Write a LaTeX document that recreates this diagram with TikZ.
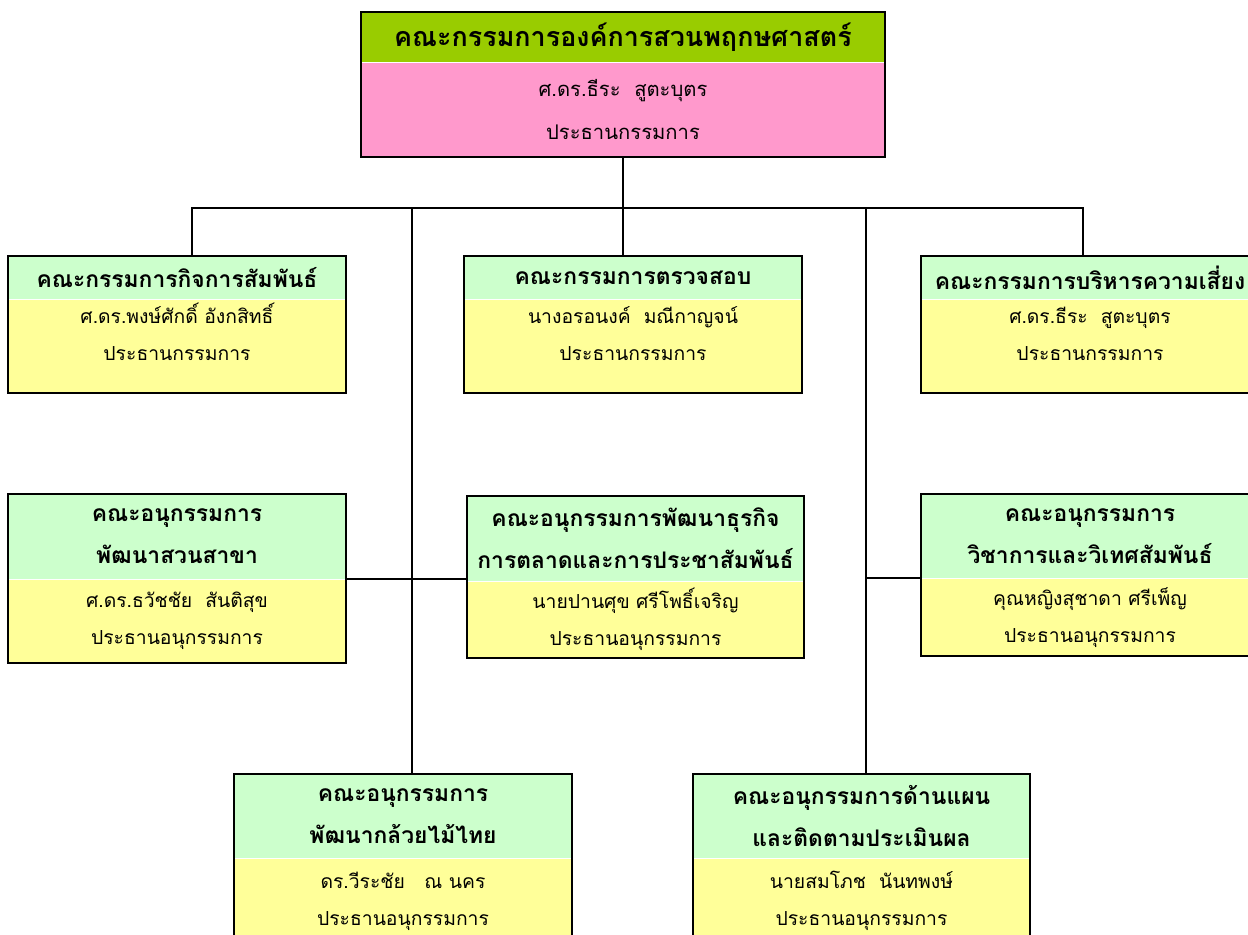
\documentclass[tikz,border=0pt]{standalone}
\usepackage{fontspec}
\newfontfamily\thai[Script=Thai]{Loma}
\usetikzlibrary{positioning}
\definecolor{topgreen}{RGB}{153,204,0}
\definecolor{toppink}{RGB}{255,153,204}
\definecolor{headgreen}{RGB}{204,255,204}
\definecolor{bodyyellow}{RGB}{255,255,153}

\begin{document}
\begin{tikzpicture}[
    x=0.2mm, y=-0.2mm,
    node distance=0pt,
    head/.style={fill=headgreen, inner sep=0pt, minimum width=67.6mm, align=center,
        font=\thai\bfseries\fontsize{13}{24}\selectfont},
    body/.style={fill=bodyyellow, inner sep=0pt, minimum width=67.6mm, align=center,
        font=\thai\fontsize{11}{21}\selectfont},
    frame/.style={draw=black, line width=1.1pt},
    link/.style={draw=black, line width=1.1pt}
]
\useasboundingbox (0,0) rectangle (1248,935);

% คณะกรรมการชุดใหญ่
\node[fill=topgreen, inner sep=0pt, minimum width=104.8mm, minimum height=10mm,
    font=\thai\bfseries\fontsize{15.3}{23}\selectfont] (toph) at (623,37) {คณะกรรมการองค์การสวนพฤกษศาสตร์};
\node[fill=toppink, inner sep=0pt, minimum width=104.8mm, minimum height=18.8mm, align=center,
    font=\thai\fontsize{11.5}{24.5}\selectfont, below=of toph] (topb) {ศ.ดร.ธีระ~~สูตะบุตร\\ประธานกรรมการ};

% คณะกรรมการ
\node[head, minimum height=8.6mm] (g1h) at (177,277.5) {คณะกรรมการกิจการสัมพันธ์};
\node[body, text height=12.2mm, text depth=6.4mm, below=of g1h] (g1b) {ศ.ดร.พงษ์ศักดิ์ อังกสิทธิ์\\ประธานกรรมการ};
\node[head, minimum height=8.6mm] (g2h) at (633,277.5) {คณะกรรมการตรวจสอบ};
\node[body, text height=12.2mm, text depth=6.4mm, below=of g2h] (g2b) {นางอรอนงค์~~มณีกาญจน์\\ประธานกรรมการ};
\node[head, minimum height=8.6mm] (g3h) at (1090,277.5) {คณะกรรมการบริหารความเสี่ยง};
\node[body, text height=12.2mm, text depth=6.4mm, below=of g3h] (g3b) {ศ.ดร.ธีระ~~สูตะบุตร\\ประธานกรรมการ};

% คณะอนุกรรมการ
\node[head, minimum height=17mm] (s1h) at (177,536.5) {คณะอนุกรรมการ\\พัฒนาสวนสาขา};
\node[body, minimum height=16.6mm, below=of s1h] (s1b) {ศ.ดร.ธวัชชัย~~สันติสุข\\ประธานอนุกรรมการ};
\node[head, minimum width=67.4mm, minimum height=17mm] (s2h) at (635.5,538.5) {คณะอนุกรรมการพัฒนาธุรกิจ\\การตลาดและการประชาสัมพันธ์};
\node[body, minimum width=67.4mm, minimum height=15.2mm, below=of s2h] (s2b) {นายปานศุข ศรีโพธิ์เจริญ\\ประธานอนุกรรมการ};
\node[head, minimum height=16.8mm] (s3h) at (1090,536) {คณะอนุกรรมการ\\วิชาการและวิเทศสัมพันธ์};
\node[body, minimum height=15.4mm, below=of s3h] (s3b) {คุณหญิงสุชาดา ศรีเพ็ญ\\ประธานอนุกรรมการ};
\node[head, minimum height=16.8mm] (s4h) at (403,816) {คณะอนุกรรมการ\\พัฒนากล้วยไม้ไทย};
\node[body, minimum height=17mm, below=of s4h] (s4b) {ดร.วีระชัย~~~ณ นคร\\ประธานอนุกรรมการ};
\node[head, minimum width=67.4mm, minimum height=16.8mm] (s5h) at (861.5,816) {คณะอนุกรรมการด้านแผน\\และติดตามประเมินผล};
\node[body, minimum width=67.4mm, minimum height=17mm, below=of s5h] (s5b) {นายสมโภช~~นันทพงษ์\\ประธานอนุกรรมการ};

% กรอบ
\foreach \b in {top,g1,g2,g3,s1,s2,s3,s4,s5}
    \draw[frame] (\b h.north west) rectangle (\b b.south east);

% เส้นเชื่อม
\coordinate (hub) at (623,208);
\coordinate (busL) at (192,208);
\coordinate (busR) at (1083,208);
\coordinate (spineL) at (412,208);
\coordinate (spineR) at (866,208);
\draw[link] (topb.south) -- (hub);
\draw[link] (busL |- g1h.north) -- (busL) -- (busR) -- (busR |- g3h.north);
\draw[link] (hub) -- (hub |- g2h.north);
\draw[link] (spineL) -- (spineL |- s4h.north);
\draw[link] (spineR) -- (spineR |- s5h.north);
\draw[link] (s1h.south east) -- (s1h.south east -| s2h.west);
\draw[link] (spineR |- s3h.south west) -- (s3h.south west);

\end{tikzpicture}
\end{document}
